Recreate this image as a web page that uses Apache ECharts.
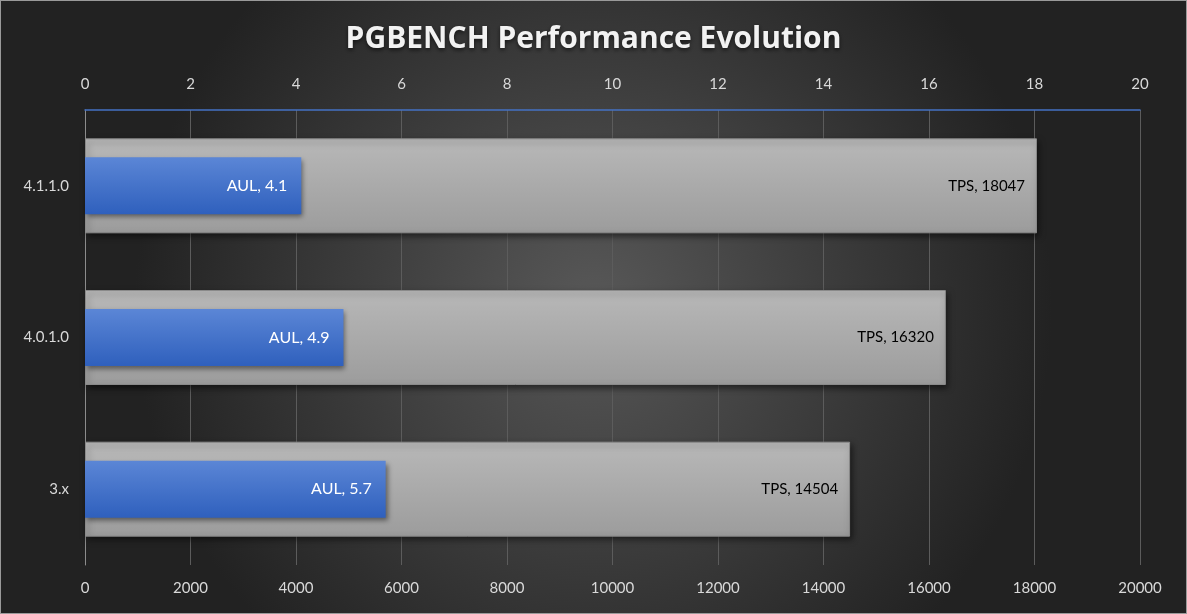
<!DOCTYPE html>
<html>
<head>
<meta charset="utf-8">
<script src="https://cdn.jsdelivr.net/npm/echarts@6/dist/echarts.min.js"></script>
<style>
html, body { margin: 0; padding: 0; background: #2b2b2b; }
#main { width: 1187px; height: 614px; box-sizing: border-box; border: 1px solid #9a9a9a; }
</style>
</head>
<body>
<div id="main"></div>
<script>
// 数据
var categories = ['3.x', '4.0.1.0', '4.1.1.0'];
var tpsValues = [14504, 16320, 18047];
var aulValues = [5.7, 4.9, 4.1];
var tpsTicks = [0, 20000, 2000];
var aulTicks = [0, 20, 2];

var myChart = echarts.init(document.getElementById('main'));

var axisLabelStyle = {
	color: '#d9d9d9',
	fontSize: 15,
	fontFamily: 'Lato'
};

var option = {
	backgroundColor: {
		type: 'radial',
		x: 0.5, y: 0.5, r: 0.75,
		colorStops: [
			{ offset: 0, color: '#585858' },
			{ offset: 1, color: '#222222' }
		]
	},
	title: {
		text: 'PGBENCH Performance Evolution',
		left: 'center',
		top: 18,
		textStyle: {
			color: '#f2f2f2',
			fontSize: 30,
			fontWeight: 'bold',
			fontFamily: 'Open Sans',
			textShadowColor: 'rgba(0,0,0,0.6)',
			textShadowBlur: 4,
			textShadowOffsetY: 2
		}
	},
	grid: {
		left: 84,
		right: 46,
		top: 109,
		bottom: 48
	},
	xAxis: [{
		type: 'value',
		position: 'bottom',
		min: tpsTicks[0],
		max: tpsTicks[1],
		interval: tpsTicks[2],
		axisLine: { show: false },
		axisTick: { show: false },
		axisLabel: Object.assign({
			margin: 16,
			formatter: function (v) { return String(v); }
		}, axisLabelStyle),
		splitLine: { lineStyle: { color: '#5c5c5c', width: 1 } }
	}, {
		type: 'value',
		position: 'top',
		min: aulTicks[0],
		max: aulTicks[1],
		interval: aulTicks[2],
		axisLine: { show: true, lineStyle: { color: '#4472c4', width: 1.5 } },
		axisTick: { show: false },
		axisLabel: Object.assign({ margin: 18 }, axisLabelStyle),
		splitLine: { show: false }
	}],
	yAxis: [{
		type: 'category',
		data: categories,
		axisLine: { show: true, lineStyle: { color: '#8c8c8c', width: 1 } },
		axisTick: { show: false },
		axisLabel: Object.assign({ margin: 16 }, axisLabelStyle)
	}, {
		type: 'category',
		data: categories,
		show: false
	}],
	series: [{
		name: 'TPS',
		type: 'bar',
		xAxisIndex: 0,
		yAxisIndex: 0,
		barWidth: 95,
		data: tpsValues,
		itemStyle: {
			color: {
				type: 'linear', x: 0, y: 0, x2: 0, y2: 1,
				colorStops: [
					{ offset: 0, color: '#b8b8b8' },
					{ offset: 1, color: '#9c9c9c' }
				]
			},
			borderColor: '#8a8a8a',
			borderWidth: 1,
			shadowColor: 'rgba(0,0,0,0.5)',
			shadowBlur: 6,
			shadowOffsetX: 2,
			shadowOffsetY: 3
		},
		label: {
			show: true,
			position: 'insideRight',
			distance: 12,
			color: '#000000',
			fontSize: 15,
			fontFamily: 'Lato',
			formatter: function (p) { return 'TPS, ' + p.value; }
		}
	}, {
		name: 'AUL',
		type: 'bar',
		xAxisIndex: 1,
		yAxisIndex: 1,
		barWidth: 57,
		data: aulValues,
		itemStyle: {
			color: {
				type: 'linear', x: 0, y: 0, x2: 0, y2: 1,
				colorStops: [
					{ offset: 0, color: '#5b86d6' },
					{ offset: 1, color: '#2f60bd' }
				]
			},
			shadowColor: 'rgba(0,0,0,0.45)',
			shadowBlur: 5,
			shadowOffsetX: 2,
			shadowOffsetY: 3
		},
		label: {
			show: true,
			position: 'insideRight',
			distance: 14,
			color: '#ffffff',
			fontSize: 16,
			fontFamily: 'Lato',
			formatter: function (p) { return 'AUL, ' + p.value; }
		}
	}]
};

myChart.setOption(option);
</script>
</body>
</html>
